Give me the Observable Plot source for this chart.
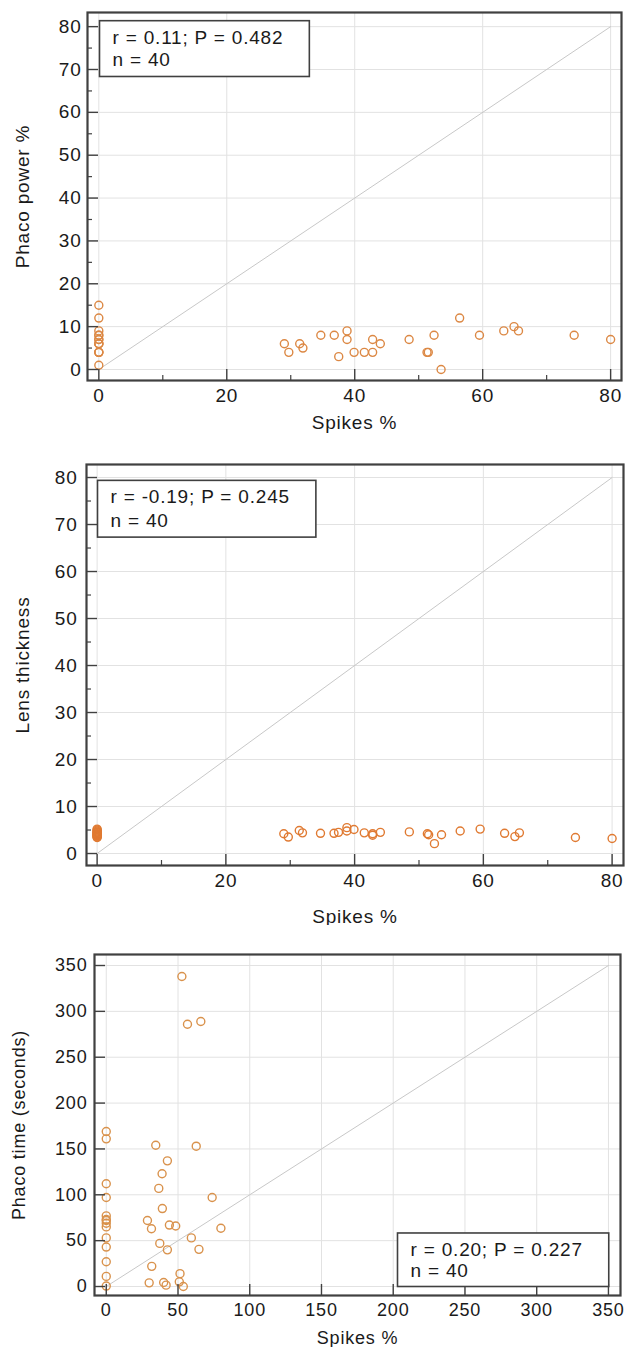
<!DOCTYPE html>
<html>
<head>
<meta charset="utf-8">
<script src="https://cdn.jsdelivr.net/npm/d3@7"></script>
<script src="https://cdn.jsdelivr.net/npm/@observablehq/plot@0.6"></script>
<style>
  body { margin: 0; background: #fff; }
  #chart svg { display: block; }
</style>
</head>
<body>
<div id="chart"></div>
<script>
// ---- Data ----
// Spikes % for panels 1 and 2 (14 eyes at 0 + 26 others)
const spikes = [0,0,0,0,0,0,0,0,0,0,0,0,0,0,
  29.0,29.7,31.4,31.9,34.7,36.8,37.5,38.8,38.8,39.9,41.5,42.8,42.8,44.0,
  48.5,51.3,51.5,52.4,53.5,56.4,59.5,63.3,64.9,65.6,74.3,80.0];
const phacoPower = [15,12,9,8,8,7,7,6,6,6,4,4,4,1,
  6,4,6,5,8,8,3,9,7,4,4,7,4,6,
  7,4,4,8,0,12,8,9,10,9,8,7];
const lensThickness = [5.2,5.0,4.8,4.6,4.5,4.4,4.2,4.1,4.0,3.9,3.8,3.7,3.5,3.4,
  4.2,3.5,4.9,4.4,4.3,4.3,4.5,5.5,4.8,5.1,4.4,4.2,3.9,4.5,
  4.6,4.2,4.0,2.1,4.0,4.8,5.2,4.3,3.6,4.4,3.4,3.2];
// Panel 3 (spikes % vs phaco time)
const spikesT = [0,0,0,0,0,0,0,0,0,0,0,0,0,0,
  52.7,56.6,65.9,34.5,62.7,42.6,38.9,36.6,73.8,39.1,28.7,31.5,44.0,48.4,
  79.9,59.3,37.3,42.6,64.6,31.7,51.4,29.9,40.0,41.7,50.9,53.7];
const phacoTime = [169,161,112,97,77,73,72,69,65,53,43,27,11,0.5,
  338,286,289,154,153,137,123,107,97,85,72,63,67,66,
  63.5,53,47,40,40.5,22,14,4,4.4,1.5,5.1,0];

const annotations = ["r = 0.11; P = 0.482\nn = 40", "r = -0.19; P = 0.245\nn = 40", "r = 0.20; P = 0.227\nn = 40"];
const yLabels = ["Phaco power %", "Lens thickness", "Phaco time (seconds)"];
const xLabel = "Spikes %";
const ticks80Major = [0, 20, 40, 60, 80];
const ticks80Minor = [10, 30, 50, 70];
const ticks80Y = [0, 10, 20, 30, 40, 50, 60, 70, 80];
const ticks80YMinor = [5, 15, 25, 35, 45, 55, 65, 75];
const ticks350 = [0, 50, 100, 150, 200, 250, 300, 350];
const diag80 = [0, 80];
const diag350 = [0, 350];

const FONT = "'Liberation Sans', Arial, sans-serif";
const DARK = "#404040";

function panel(cfg) {
  const data = cfg.xs.map((x, i) => ({x, y: cfg.ys[i]}));
  const innerW = 632 - cfg.ml - cfg.mr;
  const innerH = cfg.height - cfg.mt - cfg.mb;
  const marks = [
    Plot.gridX(cfg.gridX, {stroke: "#e2e2e2", strokeOpacity: 1}),
    Plot.gridY(cfg.gridY, {stroke: "#e2e2e2", strokeOpacity: 1}),
    Plot.line(cfg.diag, {x: d => d, y: d => d, stroke: "#c8c8c8", strokeWidth: 1}),
    Plot.dot(data, {x: "x", y: "y", r: 4, stroke: cfg.color, strokeWidth: 1.4, fill: "none"}),
    Plot.tickX(cfg.xMajor, {x: d => d, stroke: DARK, strokeWidth: 1.4, insetTop: innerH - 11}),
    Plot.tickY(cfg.yMajor, {y: d => d, stroke: DARK, strokeWidth: 1.4, insetRight: innerW - 11}),
    Plot.axisX({ticks: cfg.xMajor, tickSize: 0, tickPadding: cfg.xPad, fontSize: cfg.tickFont,
      label: xLabel, labelAnchor: "center", labelArrow: "none", labelOffset: cfg.xLabelOffset}),
    Plot.axisY({ticks: cfg.yMajor, tickSize: 0, tickPadding: cfg.yPad, fontSize: cfg.tickFont,
      label: cfg.yLabel, labelAnchor: "center", labelArrow: "none", labelOffset: cfg.yLabelOffset}),
    Plot.frame({stroke: DARK, strokeWidth: 2.2}),
    Plot.text([cfg.annotation], {text: d => d, frameAnchor: cfg.anchor, textAnchor: "start",
      lineAnchor: cfg.lineAnchor, dx: cfg.dx, dy: cfg.dy, fontSize: cfg.annFont, lineHeight: cfg.lineHeight,
      fill: "#1a1a1a"})
  ];
  if (cfg.xMinor) marks.push(Plot.tickX(cfg.xMinor, {x: d => d, stroke: DARK, strokeWidth: 1.2, insetTop: innerH - 5}));
  if (cfg.yMinor) marks.push(Plot.tickY(cfg.yMinor, {y: d => d, stroke: DARK, strokeWidth: 1.2, insetRight: innerW - 5}));
  return Plot.plot({
    width: 632, height: cfg.height,
    marginTop: cfg.mt, marginBottom: cfg.mb, marginLeft: cfg.ml, marginRight: cfg.mr,
    style: {fontFamily: FONT, fontSize: cfg.labelFont + "px", letterSpacing: "0.8px", color: "#1a1a1a", background: "#fff"},
    x: {domain: cfg.xDomain},
    y: {domain: cfg.yDomain},
    marks
  });
}

function addBox(svg, pad) {
  const t = Array.from(svg.querySelectorAll("text")).find(el => el.textContent.trim().startsWith("r ="));
  if (!t) return;
  const b = t.getBBox();
  const r = document.createElementNS("http://www.w3.org/2000/svg", "rect");
  r.setAttribute("x", b.x - pad.l);
  r.setAttribute("y", b.y - pad.t);
  r.setAttribute("width", b.width + pad.l + pad.r);
  r.setAttribute("height", b.height + pad.t + pad.b);
  r.setAttribute("fill", "#fff");
  r.setAttribute("stroke", DARK);
  r.setAttribute("stroke-width", 1.6);
  const tr = t.getAttribute("transform");
  if (tr) r.setAttribute("transform", tr);
  t.parentNode.insertBefore(r, t);
}

const container = document.getElementById("chart");
const configs = [
  {xs: spikes, ys: phacoPower, height: 440, mt: 12, mb: 60, ml: 87, mr: 11,
   xDomain: [-1.77, 81.7], yDomain: [-2.57, 83.3], gridX: ticks80Major, gridY: ticks80Y,
   xMajor: ticks80Major, xMinor: ticks80Minor, yMajor: ticks80Y, yMinor: ticks80YMinor, diag: diag80,
   yLabel: yLabels[0], annotation: annotations[0], color: "#dc8844",
   xPad: 8, yPad: 6, xLabelOffset: 48, yLabelOffset: 72, tickFont: 19, labelFont: 19, annFont: 19, lineHeight: 1.2,
   anchor: "top-left", lineAnchor: "top", dx: 25, dy: 15},
  {xs: spikes, ys: lensThickness, height: 485, mt: 24, mb: 60, ml: 86, mr: 9,
   xDomain: [-1.65, 81.77], yDomain: [-2.55, 82.77], gridX: ticks80Major, gridY: ticks80Y,
   xMajor: ticks80Major, xMinor: ticks80Minor, yMajor: ticks80Y, yMinor: ticks80YMinor, diag: diag80,
   yLabel: yLabels[1], annotation: annotations[1], color: "#e07a32",
   xPad: 8, yPad: 9, xLabelOffset: 57, yLabelOffset: 71, tickFont: 19, labelFont: 19, annFont: 19, lineHeight: 1.25,
   anchor: "top-left", lineAnchor: "top", dx: 24, dy: 22},
  {xs: spikesT, ys: phacoTime, height: 422, mt: 29, mb: 52, ml: 94, mr: 12,
   xDomain: [-8.2, 358.4], yDomain: [-9.8, 362], gridX: ticks350, gridY: ticks350,
   xMajor: ticks350, xMinor: null, yMajor: ticks350, yMinor: null, diag: diag350,
   yLabel: yLabels[2], annotation: annotations[2], color: "#d9924c",
   xPad: 8, yPad: 7, xLabelOffset: 48, yLabelOffset: 82, tickFont: 18, labelFont: 18, annFont: 19, lineHeight: 1.08,
   anchor: "bottom-right", lineAnchor: "bottom", dx: -210, dy: -19}
];
for (const cfg of configs) {
  const svg = panel(cfg);
  container.appendChild(svg);
  addBox(svg, {l: 13, r: 26, t: 6, b: 6});
}
</script>
</body>
</html>
